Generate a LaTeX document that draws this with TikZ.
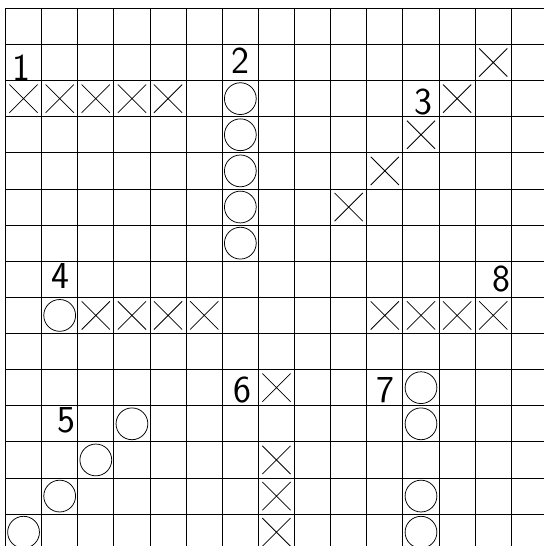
\documentclass[tikz,border=0pt]{standalone}
\usepackage{fontspec}
\usetikzlibrary{shapes.misc}
\tikzset{
  gridline/.style={line width=0.7pt, black},
  xmark/.style={draw, cross out, minimum size=0.76cm, inner sep=0pt, line width=0.6pt},
  omark/.style={draw, circle, minimum size=0.88cm, inner sep=0pt, line width=0.6pt},
  num/.style={anchor=base, inner sep=0pt, font=\sffamily\fontsize{30}{32}\selectfont},
}
\begin{document}
\begin{tikzpicture}
  \useasboundingbox (-0.152,0.23) rectangle (14.905,-14.882);
  \clip (-0.152,0.23) rectangle (14.905,-14.882);
  \fill[white] (-0.152,0.23) rectangle (14.905,-14.882);
  % grid
  \draw[gridline] (0,-14.882) grid[step=1] (14.905,0);
  \draw[gridline] (0,0) -- (14.905,0);
  % crosses
  \foreach \c/\r [count=\i] in {13/1, 0/2,1/2,2/2,3/2,4/2, 12/2, 11/3, 10/4, 9/5,
      2/8,3/8,4/8,5/8, 10/8,11/8,12/8,13/8, 7/10, 7/12,7/13,7/14}
    \node[xmark] (x\i) at (\c+0.5,-\r-0.5) {};
  % circles
  \foreach \c/\r [count=\i] in {6/2,6/3,6/4,6/5,6/6, 1/8, 11/10,11/11, 3/11, 2/12,
      1/13,11/13, 0/14,11/14}
    \node[omark] (o\i) at (\c+0.5,-\r-0.5) {};
  % numbers
  \node[num] (n1) at (0.45,-1.985) {1};
  \node[num] (n2) at (6.49,-1.80) {2};
  \node[num] (n3) at (11.57,-2.95) {3};
  \node[num] (n4) at (1.51,-7.75) {4};
  \node[num] (n5) at (1.69,-11.75) {5};
  \node[num] (n6) at (6.57,-10.90) {6};
  \node[num] (n7) at (10.52,-10.90) {7};
  \node[num] (n8) at (13.73,-7.85) {8};
\end{tikzpicture}
\end{document}
